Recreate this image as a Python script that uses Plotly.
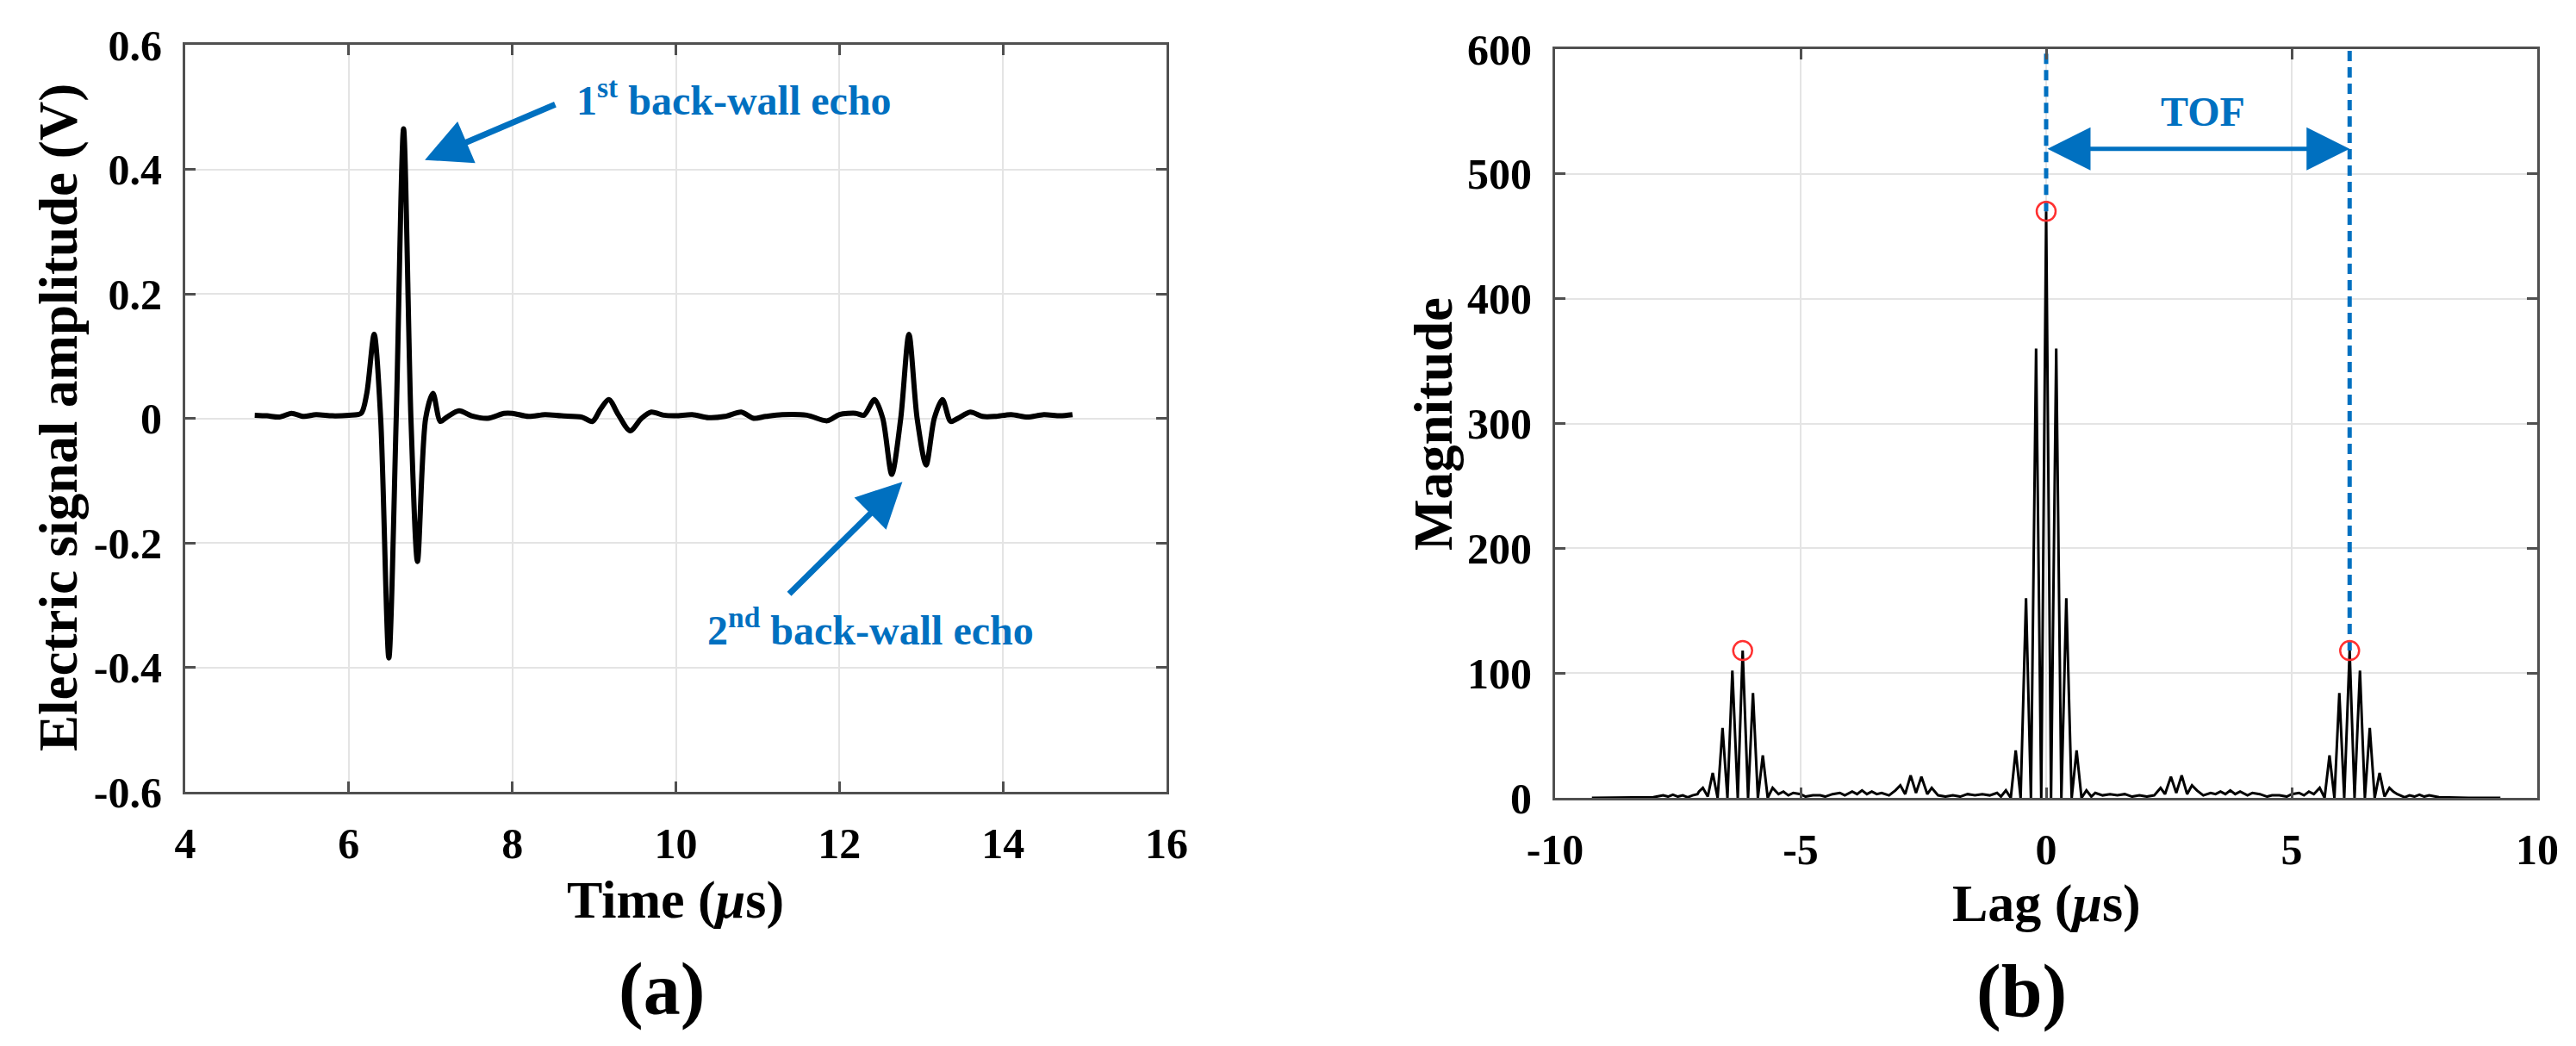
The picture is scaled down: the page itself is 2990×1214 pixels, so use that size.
import plotly.graph_objects as go

# (a) time-domain signal
time_us = [4.85, 5.0, 5.15, 5.3, 5.45, 5.6, 5.8, 6.0, 6.15, 6.22, 6.31, 6.39, 6.49, 6.58, 6.67,
           6.76, 6.84, 6.94, 7.03, 7.12, 7.2, 7.35, 7.5, 7.7, 7.9, 8.0, 8.2, 8.4, 8.6, 8.85,
           8.98, 9.08, 9.18, 9.3, 9.44, 9.58, 9.7, 9.85, 10.0, 10.2, 10.4, 10.6, 10.8, 10.95,
           11.1, 11.3, 11.6, 11.85, 12.0, 12.2, 12.3, 12.43, 12.53, 12.64, 12.75, 12.85, 12.95,
           13.06, 13.16, 13.26, 13.36, 13.45, 13.6, 13.75, 13.9, 14.1, 14.3, 14.5, 14.7, 14.85]
amp_v = [0.005, 0.004, 0.002, 0.008, 0.003, 0.006, 0.004, 0.005, 0.008, 0.04, 0.135, 0.0, -0.385,
         0.0, 0.465, 0.0, -0.23, 0.0, 0.04, -0.005, 0.002, 0.012, 0.004, 0.0, 0.008, 0.008, 0.003,
         0.006, 0.004, 0.002, -0.005, 0.015, 0.03, 0.005, -0.02, 0.0, 0.01, 0.005, 0.004, 0.006,
         0.001, 0.003, 0.01, 0.0, 0.003, 0.006, 0.005, -0.004, 0.006, 0.008, 0.005, 0.03, 0.0,
         -0.09, 0.0, 0.135, 0.0, -0.075, 0.0, 0.03, -0.005, 0.0, 0.01, 0.003, 0.003, 0.006,
         0.002, 0.006, 0.004, 0.006]

# (b) cross-correlation magnitude
lag_us = [-9.25, -8.6, -8.0, -7.8, -7.7, -7.6, -7.5, -7.4, -7.3, -7.2, -7.1, -7.07, -6.99, -6.89,
          -6.79, -6.69, -6.59, -6.49, -6.39, -6.28, -6.18, -6.07, -5.97, -5.87, -5.77, -5.67,
          -5.57, -5.45, -5.35, -5.25, -5.15, -5.0, -4.9, -4.75, -4.6, -4.5, -4.35, -4.2, -4.1,
          -3.95, -3.85, -3.75, -3.65, -3.55, -3.45, -3.35, -3.2, -3.07, -2.97, -2.87, -2.76,
          -2.65, -2.54, -2.42, -2.33, -2.2, -2.05, -1.9, -1.75, -1.6, -1.45, -1.3, -1.15, -1.0,
          -0.92, -0.82, -0.72, -0.62, -0.52, -0.41, -0.31, -0.205, -0.1, 0.0, 0.1, 0.205, 0.31,
          0.41, 0.52, 0.62, 0.72, 0.82, 0.92, 1.0, 1.15, 1.3, 1.45, 1.6, 1.75, 1.9, 2.05, 2.2,
          2.33, 2.42, 2.54, 2.65, 2.76, 2.87, 2.97, 3.07, 3.2, 3.35, 3.45, 3.55, 3.65, 3.75, 3.85,
          3.95, 4.1, 4.2, 4.35, 4.5, 4.6, 4.75, 4.9, 5.0, 5.15, 5.25, 5.35, 5.45, 5.57, 5.67,
          5.77, 5.87, 5.97, 6.07, 6.18, 6.28, 6.39, 6.49, 6.59, 6.69, 6.79, 6.89, 6.99, 7.07,
          7.15, 7.3, 7.4, 7.5, 7.6, 7.7, 7.8, 8.0, 8.6, 9.25]
magnitude = [0, 0, 0.5, 2, 1, 2.5, 1, 2, 0.5, 2, 3, 5, 8, 1,
             20, 0, 56, 0, 102, 0, 118, 0, 84, 0, 34, 0,
             8, 3, 5, 2, 4, 3, 1, 2, 2, 1, 3, 4, 2,
             5, 3, 6, 3, 5, 3, 4, 2, 6, 10, 3, 18,
             4, 17, 3, 8, 2, 1, 2, 1, 3, 2, 3, 2, 4,
             1, 6, 0, 38, 0, 160, 0, 360, 0, 470, 0, 360, 0,
             160, 0, 38, 0, 6, 1, 4, 2, 3, 2, 3, 1, 2, 1, 2,
             8, 3, 17, 4, 18, 3, 10, 6, 2, 4, 3, 5, 3, 6, 3,
             5, 2, 4, 3, 1, 2, 2, 1, 3, 4, 2, 5, 3, 8, 0,
             34, 0, 84, 0, 118, 0, 102, 0, 56, 0, 20, 1, 8, 5,
             3, 0.5, 2, 1, 2.5, 1, 2, 0.5, 0, 0]

peak_lags = [-6.18, 0.0, 6.18]
peak_mags = [118, 470, 118]

x_ticks_a = [4, 6, 8, 10, 12, 14, 16]
y_ticks_a = [-0.6, -0.4, -0.2, 0, 0.2, 0.4, 0.6]
y_text_a = ["-0.6", "-0.4", "-0.2", "0", "0.2", "0.4", "0.6"]
x_ticks_b = [-10, -5, 0, 5, 10]
x_text_b = ["-10", "-5", "0", "5", "10"]
y_ticks_b = [0, 100, 200, 300, 400, 500, 600]

FONT = "Liberation Serif"
BLUE = "#0070C0"
W, H = 2990, 1214

fig = go.Figure()
fig.add_trace(go.Scatter(x=time_us, y=amp_v, mode="lines", line=dict(color="black", width=6, shape="spline", smoothing=0.8),
                         xaxis="x", yaxis="y", showlegend=False))
fig.add_trace(go.Scatter(x=lag_us, y=magnitude, mode="lines", line=dict(color="black", width=3),
                         xaxis="x2", yaxis="y2", showlegend=False))

# dashed TOF markers from the peaks to the top of the axes
for lg, mg in zip(peak_lags[1:], peak_mags[1:]):
    fig.add_trace(go.Scatter(x=[lg, lg], y=[mg, y_ticks_b[-1]], mode="lines",
                             line=dict(color=BLUE, width=5, dash="12px,7px"),
                             xaxis="x2", yaxis="y2", showlegend=False))
fig.add_trace(go.Scatter(x=peak_lags, y=peak_mags, mode="markers",
                         marker=dict(symbol="circle-open", size=22, color="#ff3030", line=dict(width=2.5)),
                         xaxis="x2", yaxis="y2", showlegend=False))

tickfont = dict(family=FONT, size=50, color="black", weight="bold")
ax_common = dict(showline=True, linecolor="#505050", linewidth=3, mirror="ticks", ticks="inside",
                 ticklen=12, tickwidth=3, tickcolor="#505050", showgrid=True, gridcolor="#e4e4e4",
                 gridwidth=2, zeroline=False, tickfont=tickfont, automargin=False)

fig.update_layout(
    template="none",
    width=W, height=H, margin=dict(l=0, r=0, t=0, b=0, autoexpand=False),
    paper_bgcolor="white", plot_bgcolor="white", showlegend=False,
    xaxis=dict(domain=[207 / W, 1346 / W], range=[4, 16], tickvals=x_ticks_a, anchor="y",
               ticklabelstandoff=14, **ax_common),
    yaxis=dict(domain=[1 - 911 / H, 1 - 44 / H], range=[-0.6, 0.6], tickvals=y_ticks_a, ticktext=y_text_a,
               anchor="x", ticklabelstandoff=14, **ax_common),
    xaxis2=dict(domain=[1797 / W, 2937 / W], range=[-10, 10], tickvals=x_ticks_b, ticktext=x_text_b,
                anchor="y2", ticklabelstandoff=14, **ax_common),
    yaxis2=dict(domain=[1 - 918 / H, 1 - 49 / H], range=[0, 600], tickvals=y_ticks_b,
                anchor="x2", ticklabelstandoff=14, **ax_common),
)

def paper_text(txt, x, y, size, angle=0):
    fig.add_annotation(text=txt, x=x / W, y=1 - y / H, xref="paper", yref="paper", showarrow=False,
                       textangle=angle, xanchor="center", yanchor="middle",
                       font=dict(family=FONT, size=size, color="black", weight="bold"))

paper_text("Time (<i>μ</i>s)", 776, 1036, 62)
paper_text("Electric signal amplitude (V)", 60, 477, 63, angle=-90)
paper_text("(a)", 760, 1140, 86)
paper_text("Lag (<i>μ</i>s)", 2367, 1040, 62)
paper_text("Magnitude", 1656, 484, 63, angle=-90)
paper_text("(b)", 2338, 1142, 86)

echo_font = dict(family=FONT, size=48, color=BLUE, weight="bold")
fig.add_annotation(text="1<sup>st</sup> back-wall echo", x=8.76, y=0.515, xref="x", yref="y",
                   xanchor="left", yanchor="middle", showarrow=False, font=echo_font)
fig.add_annotation(x=6.93, y=0.415, ax=8.54, ay=0.505, xref="x", yref="y", axref="x", ayref="y",
                   text="", showarrow=True, arrowhead=2, arrowsize=1.5, arrowwidth=7, arrowcolor=BLUE, standoff=0)
fig.add_annotation(text="2<sup>nd</sup> back-wall echo", x=10.36, y=-0.335, xref="x", yref="y",
                   xanchor="left", yanchor="middle", showarrow=False, font=echo_font)
fig.add_annotation(x=12.77, y=-0.102, ax=11.37, ay=-0.284, xref="x", yref="y", axref="x", ayref="y",
                   text="", showarrow=True, arrowhead=2, arrowsize=1.5, arrowwidth=7, arrowcolor=BLUE, standoff=0)

fig.add_annotation(x=peak_lags[2], y=520, ax=peak_lags[1], ay=520, xref="x2", yref="y2", axref="x2", ayref="y2",
                   text="", showarrow=True, arrowhead=2, arrowside="end+start", arrowsize=2.0, arrowwidth=5,
                   arrowcolor=BLUE, standoff=0, startstandoff=0)
fig.add_annotation(text="TOF", x=3.19, y=550, xref="x2", yref="y2", showarrow=False,
                   font=dict(family=FONT, size=48, color=BLUE, weight="bold"))

fig.write_html("out.html")
